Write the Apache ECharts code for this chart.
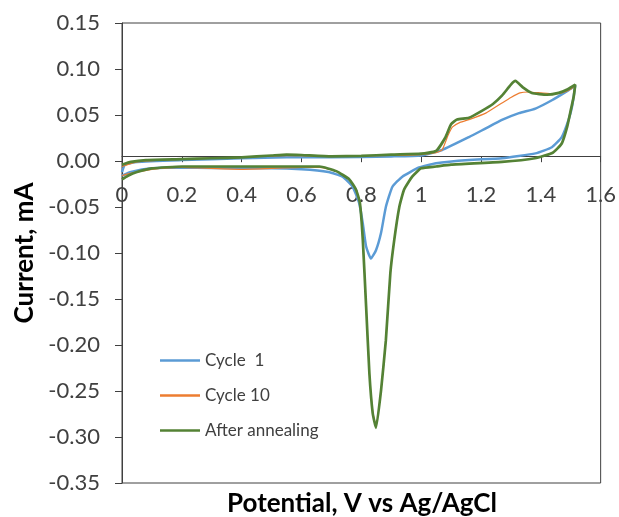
<!DOCTYPE html>
<html>
<head>
<meta charset="utf-8">
<script src="https://cdn.jsdelivr.net/npm/echarts@6/dist/echarts.min.js"></script>
<style>html,body{margin:0;padding:0;background:#fff;}#chart{width:619px;height:517px;}</style>
</head>
<body>
<div id="chart"></div>
<script>
const seriesNames = ['Cycle  1', 'Cycle 10', 'After annealing'];
const xTicks = [0, 0.2, 0.4, 0.6, 0.8, 1, 1.2, 1.4, 1.6];
const yTicks = [-0.35, -0.30, -0.25, -0.20, -0.15, -0.10, -0.05, 0.00, 0.05, 0.10, 0.15];
const xTitle = 'Potential, V vs Ag/AgCl';
const yTitle = 'Current, mA';

const cycle1 = [
  [0,-0.012],[0.01,-0.004],[0.05,-0.001],[0.2,0.001],[0.4,0.003],[0.55,0.004],[0.7,0.004],[0.9,0.005],[1.0,0.006],[1.07,0.012],
  [1.16,0.026],[1.216,0.0355],[1.27,0.0446],[1.327,0.052],[1.382,0.057],[1.437,0.066],[1.493,0.077],[1.515,0.082],
  [1.505,0.06],[1.493,0.045],[1.47,0.026],[1.437,0.015],[1.382,0.0083],[1.27,0.003],[1.16,0.001],[1.05,-0.0025],[0.993,-0.007],
  [0.937,-0.017],[0.904,-0.028],[0.882,-0.05],[0.866,-0.078],[0.849,-0.097],[0.832,-0.106],[0.816,-0.093],[0.805,-0.068],
  [0.793,-0.046],[0.771,-0.028],[0.737,-0.017],[0.69,-0.012],[0.6,-0.009],[0.5,-0.008],[0.4,-0.008],[0.2,-0.007],[0.1,-0.008],
  [0.03,-0.012],[0,-0.016]
];

const cycle10 = [
  [0,-0.006],[0.05,-0.001],[0.2,0.002],[0.4,0.004],[0.55,0.006],[0.7,0.005],[0.9,0.006],[1.0,0.007],[1.05,0.009],[1.07,0.012],
  [1.09,0.028],[1.105,0.037],[1.13,0.042],[1.16,0.045],[1.216,0.052],[1.27,0.063],[1.3,0.069],[1.33,0.074],[1.36,0.075],
  [1.4,0.074],[1.44,0.073],[1.47,0.074],[1.5,0.078],[1.515,0.082],
  [1.51,0.07],[1.5,0.055],[1.488,0.037],[1.47,0.019],[1.44,0.009],[1.38,0.003],[1.27,-0.001],[1.1,-0.004],[1.05,-0.006],[1.0,-0.008],
  [0.97,-0.017],[0.943,-0.031],[0.927,-0.05],[0.91,-0.086],[0.897,-0.122],[0.882,-0.195],[0.866,-0.249],[0.849,-0.288],
  [0.838,-0.272],[0.827,-0.231],[0.816,-0.158],[0.805,-0.086],[0.795,-0.045],[0.782,-0.031],[0.76,-0.02],[0.716,-0.011],
  [0.66,-0.007],[0.6,-0.007],[0.4,-0.009],[0.2,-0.007],[0.1,-0.009],[0.05,-0.012],[0.02,-0.014],[0,-0.016]
];

const annealed = [
  [0,-0.004],[0.03,-0.001],[0.08,0.001],[0.2,0.002],[0.3,0.003],[0.4,0.004],[0.5,0.006],[0.55,0.007],[0.6,0.0065],[0.7,0.005],
  [0.8,0.0055],[0.9,0.007],[1.0,0.008],[1.05,0.011],[1.08,0.025],[1.1,0.04],[1.12,0.045],[1.16,0.047],[1.2,0.054],[1.24,0.062],
  [1.27,0.071],[1.3,0.083],[1.315,0.087],[1.34,0.08],[1.37,0.074],[1.42,0.072],[1.46,0.074],[1.49,0.078],[1.515,0.083],
  [1.51,0.07],[1.5,0.055],[1.488,0.037],[1.47,0.019],[1.44,0.009],[1.38,0.003],[1.27,-0.001],[1.1,-0.004],[1.05,-0.006],[1.0,-0.008],
  [0.97,-0.017],[0.943,-0.031],[0.927,-0.05],[0.91,-0.086],[0.897,-0.122],[0.882,-0.195],[0.866,-0.249],[0.849,-0.29],
  [0.838,-0.274],[0.827,-0.231],[0.816,-0.158],[0.805,-0.086],[0.795,-0.045],[0.782,-0.031],[0.76,-0.02],[0.716,-0.011],
  [0.66,-0.006],[0.6,-0.006],[0.4,-0.006],[0.2,-0.006],[0.1,-0.008],[0.05,-0.012],[0.02,-0.016],[0,-0.02]
];

const FONT = 'Lato';
const TXT = '#404040';
const GRID = {left: 122, right: 17, top: 23, bottom: 34};
const chart = echarts.init(document.getElementById('chart'), null, {renderer: 'canvas'});

function mkSeries(name, data, color, width, z) {
  return {
    name: name, type: 'line', data: data,
    showSymbol: false, symbol: 'none', smooth: 0.15, z: z,
    lineStyle: {color: color, width: width}, itemStyle: {color: color},
    animation: false
  };
}

chart.setOption({
  animation: false,
  backgroundColor: '#fff',
  grid: Object.assign({show: true, borderColor: '#404040', borderWidth: 1, containLabel: false}, GRID),
  legend: {
    orient: 'vertical', left: 160, top: 352, padding: 0, itemWidth: 40, itemHeight: 2.5, itemGap: 18, icon: 'rect',
    textStyle: {fontFamily: FONT, fontSize: 17, color: TXT, lineHeight: 17},
    data: seriesNames
  },
  graphic: [{
    type: 'text', x: 362, y: 491, z: 10,
    style: {text: xTitle, fontFamily: FONT, fontSize: 26, fontWeight: 'bold', fill: '#000', align: 'center', verticalAlign: 'top'}
  }],
  xAxis: {
    type: 'value', min: xTicks[0], max: xTicks[xTicks.length - 1], interval: 0.2, position: 'bottom', offset: 0,
    axisLine: {onZero: false, lineStyle: {color: '#404040', width: 1}},
    axisTick: {show: true, length: 6, lineStyle: {color: '#404040'}},
    axisLabel: {fontFamily: FONT, fontSize: 22, color: TXT, margin: 28,
      formatter: v => String(Math.round(v * 10) / 10)},
    splitLine: {show: false}
  },
  yAxis: {
    type: 'value', min: yTicks[0], max: yTicks[yTicks.length - 1], interval: 0.05,
    axisLine: {show: true, onZero: false, lineStyle: {color: '#404040', width: 1}},
    axisTick: {show: true, length: 7, lineStyle: {color: '#404040'}},
    axisLabel: {fontFamily: FONT, fontSize: 22, color: TXT, margin: 22,
      formatter: v => (Math.round(v * 100) / 100).toFixed(2)},
    splitLine: {show: false},
    name: yTitle, nameLocation: 'middle', nameGap: 84,
    nameTextStyle: {fontFamily: FONT, fontSize: 26, fontWeight: 'bold', color: '#000'}
  },
  series: [
    mkSeries(seriesNames[0], cycle1, '#5B9BD5', 2.5, 2),
    mkSeries(seriesNames[1], cycle10, '#ED7D31', 1.2, 3),
    mkSeries(seriesNames[2], annealed, '#548235', 2.7, 4)
  ]
});

// Move the x axis (line, ticks, labels) up so that it crosses the y axis at 0
const zeroY = chart.convertToPixel({yAxisIndex: 0}, 0);
const bottomY = chart.getHeight() - GRID.bottom;
chart.setOption({xAxis: {offset: -(bottomY - zeroY)}});
</script>
</body>
</html>
